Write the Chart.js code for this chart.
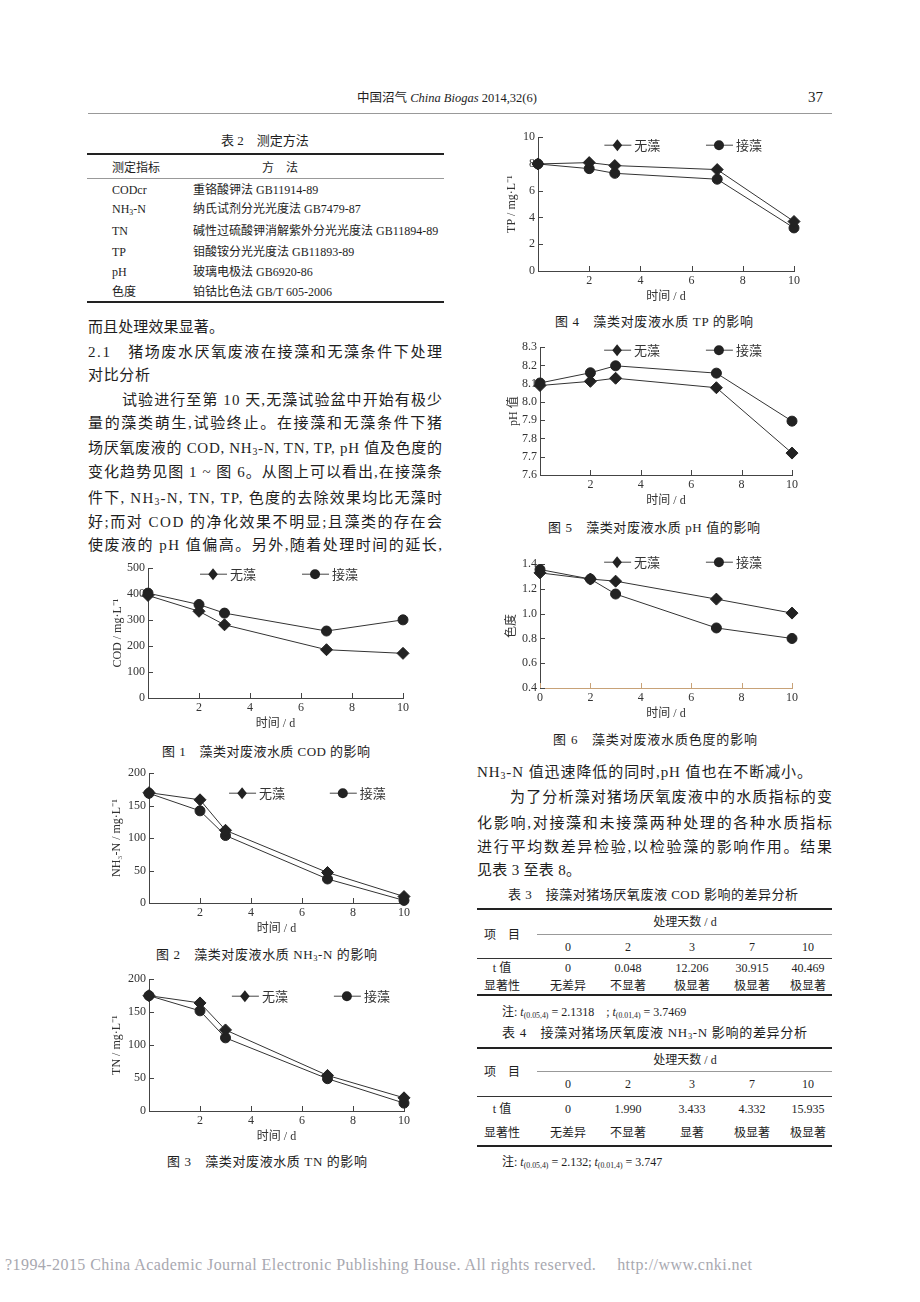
<!DOCTYPE html>
<html lang="zh-CN">
<head>
<meta charset="UTF-8">
<title>中国沼气 China Biogas 2014,32(6)</title>
<script src="https://cdn.jsdelivr.net/npm/chart.js@4"></script>
<style>
  body { margin:0; width:920px; height:1302px; position:relative; overflow:hidden; background:#fff;
         font-family:"Liberation Serif","Noto Sans CJK SC",serif; color:#1e1e1e; }
  .t { position:absolute; white-space:nowrap; line-height:20px; }
  .c { transform:translateX(-50%); }
  .p { font-size:15px; }
  .s { font-size:12px; }
  .m { font-size:13px; }
  .rule { position:absolute; height:1px; background:#333; }
  .thick { height:1.5px; background:#222; }
  .thin { background:#999; }
  sub { font-size:0.65em; vertical-align:-0.25em; line-height:0; }
  canvas { position:absolute; }
</style>
</head>
<body>

<!-- page header -->
<div class="t" style="left:357px;top:88px;font-size:12.5px">中国沼气 <i>China Biogas</i> 2014,32(6)</div>
<div class="t" style="left:808px;top:87px;font-size:15px">37</div>
<div class="rule thin" style="left:88px;top:113px;width:744px"></div>

<!-- table 2 -->
<div class="t m c" style="left:265px;top:131px">表 2　测定方法</div>
<div class="rule thick" style="left:87px;top:153px;width:357px"></div>
<div class="t s" style="left:112px;top:158px">测定指标</div>
<div class="t s" style="left:262px;top:158px">方　法</div>
<div class="rule thin" style="left:87px;top:178px;width:357px"></div>
<div class="t s" style="left:112px;top:180px">CODcr</div>
<div class="t s" style="left:193px;top:180px">重铬酸钾法 GB11914-89</div>
<div class="t s" style="left:112px;top:199px">NH<sub>3</sub>-N</div>
<div class="t s" style="left:193px;top:199px">纳氏试剂分光光度法 GB7479-87</div>
<div class="t s" style="left:112px;top:221px">TN</div>
<div class="t s" style="left:193px;top:221px">碱性过硫酸钾消解紫外分光光度法 GB11894-89</div>
<div class="t s" style="left:112px;top:242px">TP</div>
<div class="t s" style="left:193px;top:242px">钼酸铵分光光度法 GB11893-89</div>
<div class="t s" style="left:112px;top:262px">pH</div>
<div class="t s" style="left:193px;top:262px">玻璃电极法 GB6920-86</div>
<div class="t s" style="left:112px;top:282px">色度</div>
<div class="t s" style="left:193px;top:282px">铂钴比色法 GB/T 605-2006</div>
<div class="rule thick" style="left:87px;top:301px;width:357px"></div>

<!-- left paragraph -->
<div class="t p" data-w="136" style="left:88px;top:317px">而且处理效果显著。</div>
<div class="t p" data-w="354" style="left:88px;top:342px">2.1　猪场废水厌氧废液在接藻和无藻条件下处理</div>
<div class="t p" data-w="62" style="left:88px;top:365px">对比分析</div>
<div class="t p" data-w="320" style="left:122px;top:390px">试验进行至第 10 天,无藻试验盆中开始有极少</div>
<div class="t p" data-w="354" style="left:88px;top:413px">量的藻类萌生,试验终止。在接藻和无藻条件下猪</div>
<div class="t p" data-w="354" style="left:88px;top:438px">场厌氧废液的 COD, NH<sub>3</sub>-N, TN, TP, pH 值及色度的</div>
<div class="t p" data-w="354" style="left:88px;top:462px">变化趋势见图 1 ~ 图 6。从图上可以看出,在接藻条</div>
<div class="t p" data-w="354" style="left:88px;top:488px">件下, NH<sub>3</sub>-N, TN, TP, 色度的去除效果均比无藻时</div>
<div class="t p" data-w="354" style="left:88px;top:512px">好;而对 COD 的净化效果不明显;且藻类的存在会</div>
<div class="t p" data-w="354" style="left:88px;top:535px">使废液的 pH 值偏高。另外,随着处理时间的延长,</div>

<!-- figure captions -->
<div class="t m" data-w="208" style="left:162px;top:742px">图 1　藻类对废液水质 COD 的影响</div>
<div class="t m" data-w="221" style="left:156px;top:945px">图 2　藻类对废液水质 NH<sub>3</sub>-N 的影响</div>
<div class="t m" data-w="200" style="left:167px;top:1152px">图 3　藻类对废液水质 TN 的影响</div>
<div class="t m" data-w="198" style="left:555px;top:312px">图 4　藻类对废液水质 TP 的影响</div>
<div class="t m" data-w="212" style="left:548px;top:518px">图 5　藻类对废液水质 pH 值的影响</div>
<div class="t m" data-w="204" style="left:553px;top:730px">图 6　藻类对废液水质色度的影响</div>

<!-- right paragraph -->
<div class="t p" data-w="335" style="left:477px;top:762px">NH<sub>3</sub>-N 值迅速降低的同时,pH 值也在不断减小。</div>
<div class="t p" data-w="322" style="left:510px;top:787px">为了分析藻对猪场厌氧废液中的水质指标的变</div>
<div class="t p" data-w="355" style="left:477px;top:813px">化影响,对接藻和未接藻两种处理的各种水质指标</div>
<div class="t p" data-w="355" style="left:477px;top:837px">进行平均数差异检验,以检验藻的影响作用。结果</div>
<div class="t p" data-w="104" style="left:477px;top:860px">见表 3 至表 8。</div>

<!-- table 3 -->
<div class="t m" data-w="290" style="left:508px;top:885px">表 3　接藻对猪场厌氧废液 COD 影响的差异分析</div>
<div class="rule thick" style="left:477px;top:908px;width:355px"></div>
<div class="t s c" style="left:685px;top:912px">处理天数 / d</div>
<div class="rule thin" style="left:537px;top:934px;width:295px"></div>
<div class="t s c" style="left:502px;top:925px">项　目</div>
<div class="t s c" style="left:568px;top:937px">0</div>
<div class="t s c" style="left:628px;top:937px">2</div>
<div class="t s c" style="left:692px;top:937px">3</div>
<div class="t s c" style="left:752px;top:937px">7</div>
<div class="t s c" style="left:808px;top:937px">10</div>
<div class="rule" style="left:477px;top:958px;width:355px"></div>
<div class="t s c" style="left:502px;top:958px">t 值</div>
<div class="t s c" style="left:568px;top:958px">0</div>
<div class="t s c" style="left:628px;top:958px">0.048</div>
<div class="t s c" style="left:692px;top:958px">12.206</div>
<div class="t s c" style="left:752px;top:958px">30.915</div>
<div class="t s c" style="left:808px;top:958px">40.469</div>
<div class="t s c" style="left:502px;top:976px">显著性</div>
<div class="t s c" style="left:568px;top:976px">无差异</div>
<div class="t s c" style="left:628px;top:976px">不显著</div>
<div class="t s c" style="left:692px;top:976px">极显著</div>
<div class="t s c" style="left:752px;top:976px">极显著</div>
<div class="t s c" style="left:808px;top:976px">极显著</div>
<div class="rule thick" style="left:477px;top:994px;width:355px"></div>
<div class="t s" style="left:502px;top:1002px">注: <i>t</i><sub>(0.05,4)</sub> = 2.1318　; <i>t</i><sub>(0.01,4)</sub> = 3.7469</div>

<!-- table 4 -->
<div class="t m" data-w="305" style="left:502px;top:1023px">表 4　接藻对猪场厌氧废液 NH<sub>3</sub>-N 影响的差异分析</div>
<div class="rule thick" style="left:477px;top:1047px;width:355px"></div>
<div class="t s c" style="left:685px;top:1050px">处理天数 / d</div>
<div class="rule thin" style="left:537px;top:1071px;width:295px"></div>
<div class="t s c" style="left:502px;top:1062px">项　目</div>
<div class="t s c" style="left:568px;top:1074px">0</div>
<div class="t s c" style="left:628px;top:1074px">2</div>
<div class="t s c" style="left:692px;top:1074px">3</div>
<div class="t s c" style="left:752px;top:1074px">7</div>
<div class="t s c" style="left:808px;top:1074px">10</div>
<div class="rule" style="left:477px;top:1096px;width:355px"></div>
<div class="t s c" style="left:502px;top:1099px">t 值</div>
<div class="t s c" style="left:568px;top:1099px">0</div>
<div class="t s c" style="left:628px;top:1099px">1.990</div>
<div class="t s c" style="left:692px;top:1099px">3.433</div>
<div class="t s c" style="left:752px;top:1099px">4.332</div>
<div class="t s c" style="left:808px;top:1099px">15.935</div>
<div class="t s c" style="left:502px;top:1123px">显著性</div>
<div class="t s c" style="left:568px;top:1123px">无差异</div>
<div class="t s c" style="left:628px;top:1123px">不显著</div>
<div class="t s c" style="left:692px;top:1123px">显著</div>
<div class="t s c" style="left:752px;top:1123px">极显著</div>
<div class="t s c" style="left:808px;top:1123px">极显著</div>
<div class="rule thick" style="left:477px;top:1145px;width:355px"></div>
<div class="t s" style="left:502px;top:1152px">注: <i>t</i><sub>(0.05,4)</sub> = 2.132; <i>t</i><sub>(0.01,4)</sub> = 3.747</div>

<!-- footer -->
<div class="t" data-w="747" style="left:5px;top:1255px;font-size:16px;color:#a8a8b0">?1994-2015 China Academic Journal Electronic Publishing House. All rights reserved.　 http://www.cnki.net</div>

<script>
  // data
  const days = [0, 2, 3, 7, 10];
  const seriesNames = ['无藻', '接藻'];
  const xTicks = [0, 2, 4, 6, 8, 10];

  const codNoAlgae = [395, 334, 282, 186, 172];
  const codAlgae = [404, 360, 327, 258, 301];
  const codTicks = [0, 100, 200, 300, 400, 500];

  const nh3NoAlgae = [170, 159, 112, 47, 10];
  const nh3Algae = [169, 142, 104, 37, 4];
  const nh3Ticks = [0, 50, 100, 150, 200];

  const tnNoAlgae = [175, 164, 123, 54, 20];
  const tnAlgae = [175, 152, 111, 49, 12];
  const tnTicks = [0, 50, 100, 150, 200];

  const tpNoAlgae = [8.0, 8.1, 7.88, 7.58, 3.7];
  const tpAlgae = [8.0, 7.65, 7.3, 6.86, 3.22];
  const tpTicks = [0, 2, 4, 6, 8, 10];

  const phNoAlgae = [8.09, 8.113, 8.13, 8.078, 7.72];
  const phAlgae = [8.104, 8.16, 8.198, 8.158, 7.895];
  const phTicks = [7.6, 7.7, 7.8, 7.9, 8.0, 8.1, 8.2, 8.3];

  const colorNoAlgae = [1.33, 1.28, 1.263, 1.118, 1.005];
  const colorAlgae = [1.357, 1.28, 1.159, 0.885, 0.80];
  const colorTicks = [0.4, 0.6, 0.8, 1.0, 1.2, 1.4];

  // stretch text lines to the printed width
  document.querySelectorAll('[data-w]').forEach(el => {
    const target = +el.dataset.w;
    const natural = el.getBoundingClientRect().width;
    const n = [...el.textContent].length;
    if (n > 1) el.style.letterSpacing = ((target - natural) / (n - 1)) + 'px';
  });

  Chart.defaults.font.family = '"Liberation Serif", "Noto Sans CJK SC", serif';
  Chart.defaults.font.size = 12;
  Chart.defaults.color = '#333';

  function drawMarker(ctx, style, x, y, r) {
    ctx.beginPath();
    if (style === 'rectRot') {
      ctx.moveTo(x, y - r); ctx.lineTo(x + r * 0.8, y); ctx.lineTo(x, y + r); ctx.lineTo(x - r * 0.8, y);
      ctx.closePath();
    } else {
      ctx.arc(x, y, r, 0, Math.PI * 2);
    }
    ctx.fill();
  }

  const inlineLegend = {
    id: 'inlineLegend',
    afterDraw(chart, args, opts) {
      const { ctx, chartArea: a } = chart;
      chart.data.datasets.forEach((ds, i) => {
        const x = a.left + (a.right - a.left) * opts.xs[i];
        const y = a.top + opts.dy;
        ctx.save();
        ctx.strokeStyle = '#444';
        ctx.lineWidth = 1;
        ctx.beginPath(); ctx.moveTo(x - 13, y); ctx.lineTo(x + 14, y); ctx.stroke();
        ctx.fillStyle = '#222';
        drawMarker(ctx, ds.pointStyle, x, y, ds.pointRadius);
        ctx.fillStyle = '#333';
        ctx.font = '13px "Noto Sans CJK SC"';
        ctx.textBaseline = 'middle';
        ctx.fillText(ds.label, x + 17, y);
        ctx.restore();
      });
    }
  };

  // tick marks point into the plot
  const innerTicks = {
    id: 'innerTicks',
    beforeDatasetsDraw(chart, args, opts) {
      const { ctx, chartArea: a, scales } = chart;
      ctx.save();
      ctx.lineWidth = 1;
      ctx.strokeStyle = opts.xColor;
      scales.x.ticks.forEach(t => {
        const px = Math.round(scales.x.getPixelForValue(t.value)) + 0.5;
        ctx.beginPath(); ctx.moveTo(px, a.bottom); ctx.lineTo(px, a.bottom - 5); ctx.stroke();
      });
      ctx.strokeStyle = '#444';
      scales.y.ticks.forEach(t => {
        const py = Math.round(scales.y.getPixelForValue(t.value)) + 0.5;
        ctx.beginPath(); ctx.moveTo(a.left, py); ctx.lineTo(a.left + 5, py); ctx.stroke();
      });
      ctx.restore();
    }
  };

  function toPoints(vals) {
    return days.map((d, i) => ({ x: d, y: vals[i] }));
  }

  function addChart(c) {
    const [L, T, R, B] = c.plot;
    const xh = 34;
    const left = c.titleX - 10, top = T - 10;
    const w = R + 14 - left, h = B + xh - top;
    const cv = document.createElement('canvas');
    cv.width = w; cv.height = h;
    cv.style.left = left + 'px';
    cv.style.top = top + 'px';
    document.body.appendChild(cv);
    const yw = L - left;
    const xColor = c.xAxisColor || '#444';
    const line = { borderColor: '#333', borderWidth: 1, backgroundColor: '#222', pointBorderColor: '#222', pointBorderWidth: 1, tension: 0, clip: false };

    new Chart(cv, {
      type: 'line',
      data: {
        datasets: [
          Object.assign({ label: seriesNames[0], data: toPoints(c.series[0]), pointStyle: 'rectRot', pointRadius: 6 }, line),
          Object.assign({ label: seriesNames[1], data: toPoints(c.series[1]), pointStyle: 'circle', pointRadius: 5 }, line)
        ]
      },
      options: {
        responsive: false,
        animation: false,
        devicePixelRatio: 1,
        layout: { padding: { top: 10, right: 14, left: 0, bottom: 0 } },
        plugins: {
          legend: { display: false },
          tooltip: { enabled: false },
          inlineLegend: { xs: c.legendXs, dy: c.legendDy },
          innerTicks: { xColor: xColor }
        },
        scales: {
          x: {
            type: 'linear', min: 0, max: 10,
            afterFit: s => { s.height = xh; },
            afterBuildTicks: s => { s.ticks = xTicks.map(v => ({ value: v })); },
            grid: { display: false, drawTicks: false },
            border: { display: true, color: xColor, width: 1 },
            ticks: { padding: 3, callback: v => (v === 0 && !c.showZero) ? '' : v },
            title: { display: true, text: '时间 / d', padding: { top: 0, bottom: 1 } }
          },
          y: {
            min: c.yTicks[0], max: c.yTicks[c.yTicks.length - 1],
            afterFit: s => { s.width = yw; },
            afterBuildTicks: s => { s.ticks = c.yTicks.map(v => ({ value: v })); },
            grid: { display: false, drawTicks: false },
            border: { display: true, color: '#444', width: 1 },
            ticks: { padding: 3, callback: v => v.toFixed(c.decimals) },
            title: { display: true, text: c.yTitle, padding: { top: 3, bottom: 0 } }
          }
        }
      },
      plugins: [inlineLegend, innerTicks]
    });
  }

  addChart({ plot: [148, 568, 403, 698], titleX: 118, yTitle: 'COD / mg·L⁻¹', yTicks: codTicks, decimals: 0,
             series: [codNoAlgae, codAlgae], legendXs: [0.255, 0.655], legendDy: 6 });
  addChart({ plot: [149, 773, 404, 903], titleX: 117, yTitle: 'NH₃-N / mg·L⁻¹', yTicks: nh3Ticks, decimals: 0,
             series: [nh3NoAlgae, nh3Algae], legendXs: [0.365, 0.76], legendDy: 20 });
  addChart({ plot: [149, 979, 404, 1111], titleX: 117, yTitle: 'TN / mg·L⁻¹', yTicks: tnTicks, decimals: 0,
             series: [tnNoAlgae, tnAlgae], legendXs: [0.376, 0.776], legendDy: 17 });
  addChart({ plot: [538, 137, 794, 271], titleX: 512, yTitle: 'TP / mg·L⁻¹', yTicks: tpTicks, decimals: 0,
             series: [tpNoAlgae, tpAlgae], legendXs: [0.31, 0.707], legendDy: 8 });
  addChart({ plot: [540, 347, 792, 475], titleX: 514, yTitle: 'pH 值', yTicks: phTicks, decimals: 1,
             series: [phNoAlgae, phAlgae], legendXs: [0.306, 0.71], legendDy: 3 });
  addChart({ plot: [540, 564, 792, 688], titleX: 512, yTitle: '色度', yTicks: colorTicks, decimals: 1,
             series: [colorNoAlgae, colorAlgae], legendXs: [0.306, 0.71], legendDy: -2,
             showZero: true, xAxisColor: '#c8a278' });
</script>
</body>
</html>
